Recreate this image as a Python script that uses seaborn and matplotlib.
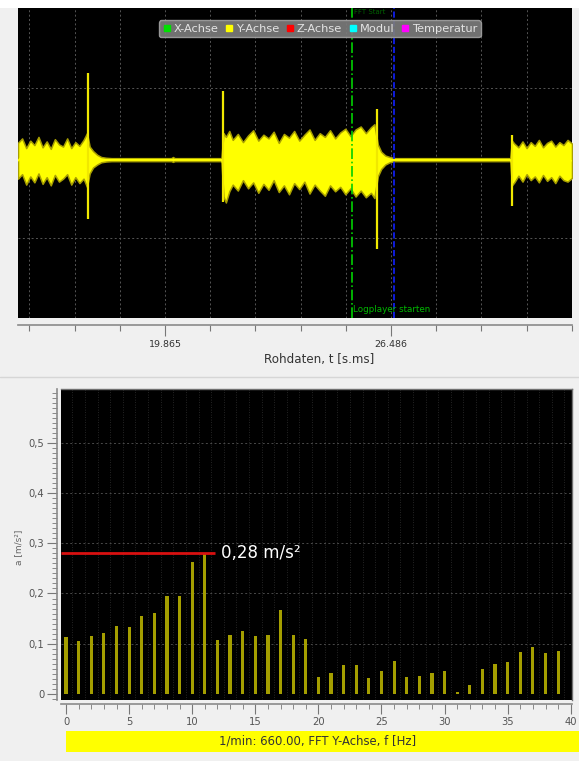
import matplotlib
matplotlib.use("Agg")
import matplotlib.pyplot as plt
import seaborn as sns
import pandas as pd
from matplotlib.lines import Line2D
from matplotlib.patches import Rectangle
from matplotlib.ticker import FixedLocator, MultipleLocator

# ---------------- data ----------------
legend_labels = ["X-Achse", "Y-Achse", "Z-Achse", "Modul", "Temperatur"]
legend_colors = ["#00e000", "#ffff00", "#ff0000", "#00ffff", "#ff00ff"]

time_range = [15.56, 31.79]
time_major_ticks = [19.865, 26.486]
time_tick_labels = ["19.865", "26.486"]
time_minor_step = 1.3242
time_xlabel = "Rohdaten, t [s.ms]"

# envelope of the raw Y signal (upper / lower)
b1_t = [15.56, 15.68, 15.80, 15.92, 16.04, 16.16, 16.28, 16.40, 16.52, 16.64,
        16.76, 16.88, 17.00, 17.12, 17.24, 17.36, 17.48, 17.58]
b1_hi = [0.27, 0.33, 0.20, 0.30, 0.24, 0.35, 0.21, 0.29, 0.19, 0.32,
         0.25, 0.22, 0.33, 0.20, 0.28, 0.23, 0.31, 0.40]
b1_lo = [-0.21, -0.15, -0.29, -0.18, -0.26, -0.14, -0.28, -0.19, -0.30, -0.16,
         -0.25, -0.21, -0.15, -0.29, -0.19, -0.27, -0.21, -0.32]
r1_t = [17.66, 17.76, 17.88, 18.00, 18.14, 18.30, 20.05, 20.10, 20.15, 21.52]
r1_hi = [0.22, 0.16, 0.11, 0.08, 0.07, 0.065, 0.065, 0.08, 0.065, 0.065]
r1_lo = [-0.14, -0.06, -0.02, 0.01, 0.02, 0.025, 0.025, 0.015, 0.025, 0.025]
b2_t = [21.58, 21.65, 21.75, 21.85, 22.00, 22.15, 22.30, 22.45, 22.60, 22.75,
        22.90, 23.05, 23.20, 23.35, 23.50, 23.65, 23.80, 23.95, 24.10, 24.25,
        24.40, 24.55, 24.70, 24.85, 25.00, 25.15, 25.30, 25.45, 25.60, 25.75,
        25.90, 26.00]
b2_hi = [0.40, 0.35, 0.43, 0.31, 0.39, 0.28, 0.37, 0.44, 0.30, 0.38,
         0.33, 0.42, 0.27, 0.39, 0.34, 0.43, 0.30, 0.38, 0.45, 0.31,
         0.40, 0.35, 0.44, 0.33, 0.41, 0.46, 0.36, 0.45, 0.49, 0.40,
         0.48, 0.52]
b2_lo = [-0.45, -0.53, -0.38, -0.29, -0.37, -0.23, -0.34, -0.26, -0.40, -0.28,
         -0.36, -0.23, -0.39, -0.30, -0.42, -0.27, -0.35, -0.25, -0.41, -0.29,
         -0.37, -0.44, -0.30, -0.38, -0.32, -0.42, -0.34, -0.45, -0.37, -0.46,
         -0.40, -0.47]
r2_t = [26.10, 26.20, 26.32, 26.45, 26.60, 29.98]
r2_hi = [0.25, 0.15, 0.10, 0.08, 0.065, 0.065]
r2_lo = [-0.18, -0.08, -0.02, 0.01, 0.025, 0.025]
b3_t = [30.03, 30.10, 30.22, 30.34, 30.46, 30.58, 30.70, 30.82, 30.94, 31.06,
        31.18, 31.30, 31.42, 31.54, 31.66, 31.79]
b3_hi = [0.30, 0.26, 0.21, 0.29, 0.20, 0.28, 0.23, 0.31, 0.21, 0.27,
         0.30, 0.22, 0.28, 0.24, 0.31, 0.26]
b3_lo = [-0.30, -0.26, -0.17, -0.25, -0.15, -0.23, -0.18, -0.26, -0.16, -0.24,
         -0.19, -0.27, -0.17, -0.23, -0.25, -0.20]

spike_t = [17.61, 21.57, 26.07, 30.02]
spike_hi = [1.21, 0.96, 0.72, 0.37]
spike_lo = [-0.75, -0.53, -1.16, -0.58]

marker_green_t = 25.34
marker_blue_t = 26.575
marker_green_label = "Logplayer starten"
marker_top_label = "FFT Start"

fft_freq = list(range(0, 40))
fft_amp = [0.114, 0.105, 0.115, 0.121, 0.135, 0.133, 0.156, 0.161, 0.195, 0.195,
           0.262, 0.280, 0.107, 0.118, 0.126, 0.115, 0.118, 0.168, 0.117, 0.109,
           0.033, 0.042, 0.058, 0.058, 0.031, 0.046, 0.066, 0.034, 0.036, 0.042,
           0.046, 0.003, 0.018, 0.050, 0.060, 0.064, 0.084, 0.093, 0.082, 0.085]
freq_ticks = [0, 5, 10, 15, 20, 25, 30, 35, 40]
amp_ticks = [0, 0.1, 0.2, 0.3, 0.4, 0.5]
amp_tick_labels = ["0", "0,1", "0,2", "0,3", "0,4", "0,5"]
peak_value = 0.28
peak_end_hz = 11.8
peak_label = "0,28 m/s²"
fft_ylabel = "a [m/s²]"
fft_xlabel = "1/min: 660.00, FFT Y-Achse, f [Hz]"

# ---------------- figure ----------------
sns.set_theme(style="dark")
plt.rcParams["font.family"] = ["DejaVu Sans"]

W, H = 579, 761
fig = plt.figure(figsize=(W / 100, H / 100), dpi=100, facecolor="#f0f0f0")


def fr(x0, y0, x1, y1):
    return [x0 / W, 1 - y1 / H, (x1 - x0) / W, (y1 - y0) / H]


fig.patches.append(Rectangle((0, 1 - 8 / H), 1, 8 / H, transform=fig.transFigure,
                             facecolor="white", edgecolor="none", zorder=0))
fig.add_artist(Line2D([0, 1], [1 - 377 / H, 1 - 377 / H], transform=fig.transFigure,
                      color="#d6d6d6", lw=1))

# ---------- top: raw data ----------
ax1 = fig.add_axes(fr(18, 8, 572, 318))
ax1.set_facecolor("black")
env = pd.DataFrame({
    "t": b1_t + r1_t + b2_t + r2_t + b3_t,
    "hi": b1_hi + r1_hi + b2_hi + r2_hi + b3_hi,
    "lo": b1_lo + r1_lo + b2_lo + r2_lo + b3_lo,
})
env["mid"] = (env["hi"] + env["lo"]) / 2
ax1.fill_between(env["t"], env["lo"], env["hi"], facecolor="#ffff00",
                 edgecolor="#a89f00", lw=1.1, zorder=3)
sns.lineplot(data=env, x="t", y="mid", ax=ax1, color="#ffff00", lw=1.2, zorder=3)
ax1.vlines(spike_t, spike_lo, spike_hi, color="#f0e800", lw=1.6, zorder=4)

ax1.axvline(marker_green_t, color="#00d000", lw=1.2, ls="-.", zorder=5)
ax1.axvline(marker_blue_t, color="#1020ff", lw=1.2, ls="--", zorder=5)
ax1.text(marker_green_t + 0.03, -2.02, marker_green_label, color="#00b800",
         fontsize=6.3, va="bottom", ha="left", zorder=6)
ax1.text(marker_green_t + 0.05, 2.06, marker_top_label, color="#00a000",
         fontsize=5, va="top", ha="left", zorder=5, alpha=0.6)

ax1.set_xlim(*time_range)
ax1.set_ylim(-2.08, 2.08)
ax1.set_xlabel("")
ax1.set_ylabel("")
ax1.xaxis.set_major_locator(FixedLocator(time_major_ticks))
ax1.set_xticklabels(time_tick_labels)
minors = [time_major_ticks[0] + k * time_minor_step for k in range(-4, 11)]
ax1.xaxis.set_minor_locator(FixedLocator(minors))
ax1.set_yticks([-1, 1])
ax1.set_yticklabels([])
ax1.grid(True, which="both", axis="x", color="#555555", lw=0.7, ls=(0, (2, 2.5)))
ax1.grid(True, which="major", axis="y", color="#555555", lw=0.7, ls=(0, (2, 2.5)))
ax1.tick_params(axis="y", length=0)
ax1.tick_params(axis="x", which="major", direction="out", length=8, width=0.8,
                color="#777777", labelsize=6.8, labelcolor="#333333", pad=3,
                bottom=True)
ax1.tick_params(axis="x", which="minor", direction="out", length=4, width=0.8,
                color="#777777", bottom=True)
for s in ["top", "left", "right"]:
    ax1.spines[s].set_visible(False)
ax1.spines["bottom"].set_position(("outward", 5))
ax1.spines["bottom"].set_color("#8a8a8a")
ax1.spines["bottom"].set_linewidth(1.2)

leg_handles = [Line2D([], [], marker="s", ls="", color=c, markersize=5)
               for c in legend_colors]
leg = ax1.legend(leg_handles, legend_labels, ncol=5, loc="upper center",
                 bbox_to_anchor=(0.545, 0.960), frameon=True, fancybox=True,
                 facecolor="#7c7c7c", edgecolor="#a0a0a0", framealpha=0.92,
                 labelcolor="#e4e4e4", fontsize=8.2, handlelength=0.7,
                 handletextpad=0.25, columnspacing=0.6, borderpad=0.3,
                 borderaxespad=0)
leg.set_zorder(10)

fig.text(319 / W, 1 - 360 / H, time_xlabel, ha="center", va="center",
         fontsize=8.6, color="#333333")

# ---------- bottom: FFT ----------
ax2 = fig.add_axes(fr(61, 389, 572, 700))
ax2.set_facecolor("black")
fft = pd.DataFrame({"f": fft_freq, "a": fft_amp})
sns.barplot(data=fft, x="f", y="a", native_scale=True, width=0.25,
            color="#a49e00", saturation=1, errorbar=None, ax=ax2, zorder=3,
            linewidth=0, edgecolor="none")
ax2.set_xlim(-0.4, 40.1)
ax2.set_ylim(-0.012, 0.607)
ax2.hlines(peak_value, -0.4, peak_end_hz, color="#d81010", lw=2, zorder=4)
ax2.text(peak_end_hz + 0.5, peak_value, peak_label, color="white", fontsize=12,
         va="center", ha="left", zorder=5)

ax2.set_xlabel("")
ax2.set_ylabel(fft_ylabel, fontsize=6.5, color="#666666", labelpad=4)
ax2.set_xticks(freq_ticks)
ax2.set_xticklabels([str(v) for v in freq_ticks])
ax2.xaxis.set_minor_locator(MultipleLocator(1))
ax2.set_yticks(amp_ticks)
ax2.set_yticklabels(amp_tick_labels)
ax2.yaxis.set_minor_locator(MultipleLocator(0.01))
ax2.grid(False)
for yv in amp_ticks[1:]:
    ax2.axhline(yv, color="#4a4a4a", lw=0.7, ls=(0, (2, 2.5)), zorder=1)
for xv in range(0, 41):
    ax2.axvline(xv + 0.5, color="#303030", lw=0.6, ls=(0, (1, 2)), zorder=1)
ax2.tick_params(axis="both", which="major", direction="out", length=7, width=0.8,
                color="#777777", labelsize=7.2, labelcolor="#555555", pad=2,
                bottom=True, left=True)
ax2.tick_params(axis="both", which="minor", direction="out", length=3.5, width=0.7,
                color="#888888", bottom=True, left=True)
for s in ["top", "right"]:
    ax2.spines[s].set_color("#707070")
    ax2.spines[s].set_linewidth(1)
for s in ["left", "bottom"]:
    ax2.spines[s].set_position(("outward", 3))
    ax2.spines[s].set_color("#8a8a8a")
    ax2.spines[s].set_linewidth(1.2)
ax2.yaxis.label.set_position((0, 0.49))

fig.patches.append(Rectangle((66 / W, 1 - 752 / H), (579 - 66) / W, 21 / H,
                             transform=fig.transFigure, facecolor="#ffff00",
                             edgecolor="none", zorder=1))
fig.text(318 / W, 1 - 741.5 / H, fft_xlabel, ha="center", va="center",
         fontsize=8.4, color="#333333")

fig.savefig("out.png", dpi=100, facecolor=fig.get_facecolor())
